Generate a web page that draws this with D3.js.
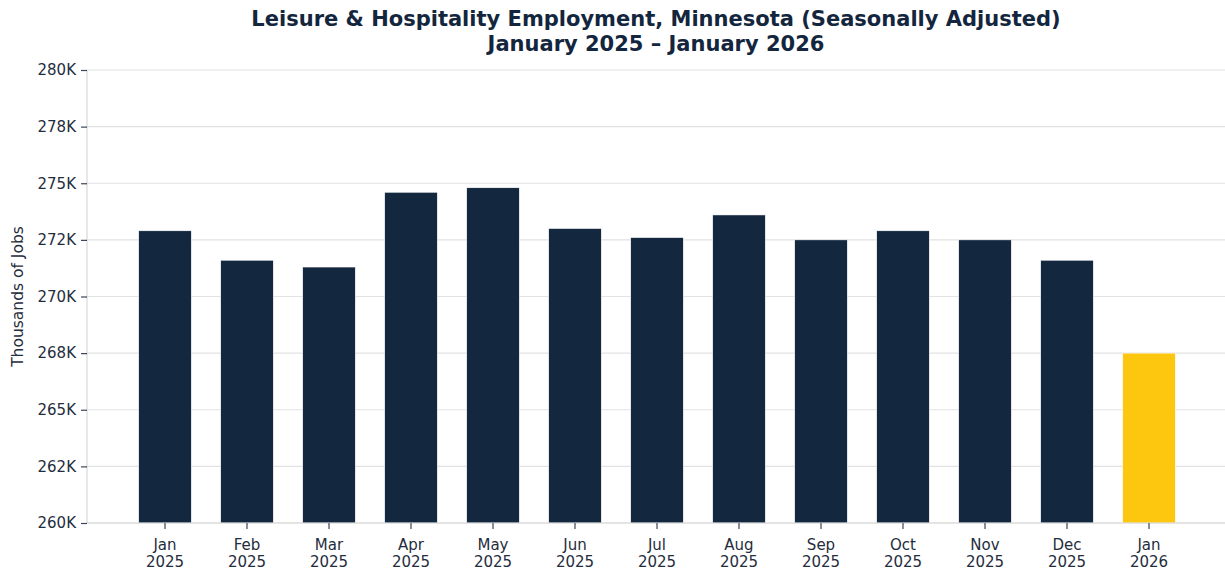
<!DOCTYPE html>
<html>
<head>
<meta charset="utf-8">
<script src="https://cdn.jsdelivr.net/npm/d3@7"></script>
<style>
  body { margin: 0; background: #fff; }
  svg { display: block; font-family: "DejaVu Sans", sans-serif; }
</style>
</head>
<body>
<div id="chart"></div>
<script>
// data
const months = ["Jan", "Feb", "Mar", "Apr", "May", "Jun", "Jul", "Aug", "Sep", "Oct", "Nov", "Dec", "Jan"];
const years = ["2025", "2025", "2025", "2025", "2025", "2025", "2025", "2025", "2025", "2025", "2025", "2025", "2026"];
const jobs = [272.9, 271.6, 271.3, 274.6, 274.8, 273.0, 272.6, 273.6, 272.5, 272.9, 272.5, 271.6, 267.5];
const yTicks = [260, 262.5, 265, 267.5, 270, 272.5, 275, 277.5, 280];
const yTickLabels = ["260K", "262K", "265K", "268K", "270K", "272K", "275K", "278K", "280K"];

const W = 1225, H = 571;
const plotL = 87, plotR = 1225, plotT = 70, plotB = 523;
const navy = "#13283f", gold = "#fdc70f", textCol = "#1f2d3d";

const svg = d3.select("#chart").append("svg")
    .attr("width", W)
    .attr("height", H);

const keys = jobs.map((_, i) => i);
const x = d3.scaleBand()
    .domain(keys)
    .range([124, 124 + 13 * 82])
    .paddingInner(0.36)
    .paddingOuter(0.18);

const y = d3.scaleLinear()
    .domain([260, 280])
    .range([plotB, plotT]);

// grid
svg.append("g")
    .selectAll("line")
    .data(yTicks)
    .join("line")
    .attr("x1", plotL)
    .attr("x2", plotR)
    .attr("y1", d => y(d))
    .attr("y2", d => y(d))
    .attr("stroke", "#e2e2e2")
    .attr("stroke-width", 1.2);

// bars
svg.append("g")
    .selectAll("rect")
    .data(jobs)
    .join("rect")
    .attr("x", (d, i) => x(i))
    .attr("width", x.bandwidth())
    .attr("y", d => y(d))
    .attr("height", d => y(260) - y(d))
    .attr("fill", (d, i) => i == jobs.length - 1 ? gold : navy)
    .attr("stroke", "#fff")
    .attr("stroke-width", 0.5);

// spines
svg.append("line")
    .attr("x1", plotL).attr("x2", plotL)
    .attr("y1", plotT).attr("y2", plotB)
    .attr("stroke", "#d8d8d8").attr("stroke-width", 1.2);
svg.append("line")
    .attr("x1", plotL).attr("x2", plotR)
    .attr("y1", plotB).attr("y2", plotB)
    .attr("stroke", "#d8d8d8").attr("stroke-width", 1.2);

// y axis
const yAxis = svg.append("g")
    .attr("transform", `translate(${plotL},0)`)
    .call(d3.axisLeft(y)
        .tickValues(yTicks)
        .tickFormat((d, i) => yTickLabels[i])
        .tickSize(6)
        .tickPadding(5));
yAxis.select(".domain").remove();
yAxis.selectAll(".tick line").attr("stroke", "#3a4655").attr("stroke-width", 1.2);
yAxis.selectAll(".tick text")
    .attr("fill", textCol)
    .attr("font-size", 15)
    .attr("font-family", "DejaVu Sans");

// x axis
const xAxis = svg.append("g")
    .attr("transform", `translate(0,${plotB})`)
    .call(d3.axisBottom(x)
        .tickFormat(() => "")
        .tickSize(6));
xAxis.select(".domain").remove();
xAxis.selectAll(".tick line").attr("stroke", "#3a4655").attr("stroke-width", 1.2);

const lbl = svg.append("g")
    .selectAll("text")
    .data(keys)
    .join("text")
    .attr("x", i => x(i) + x.bandwidth() / 2)
    .attr("y", plotB + 27)
    .attr("text-anchor", "middle")
    .attr("fill", textCol)
    .attr("font-size", 15);
lbl.append("tspan")
    .attr("x", i => x(i) + x.bandwidth() / 2)
    .text(i => months[i]);
lbl.append("tspan")
    .attr("x", i => x(i) + x.bandwidth() / 2)
    .attr("dy", 17)
    .text(i => years[i]);

// y label
svg.append("text")
    .attr("transform", `translate(23,${(plotT + plotB) / 2}) rotate(-90)`)
    .attr("text-anchor", "middle")
    .attr("fill", textCol)
    .attr("font-size", 15.5)
    .text("Thousands of Jobs");

// title
const title = svg.append("text")
    .attr("text-anchor", "middle")
    .attr("fill", "#13263d")
    .attr("font-weight", "bold")
    .attr("font-size", 21);
title.append("tspan")
    .attr("x", (plotL + plotR) / 2)
    .attr("y", 26)
    .text("Leisure & Hospitality Employment, Minnesota (Seasonally Adjusted)");
title.append("tspan")
    .attr("x", (plotL + plotR) / 2)
    .attr("y", 51)
    .text("January 2025 \u2013 January 2026");
</script>
</body>
</html>
